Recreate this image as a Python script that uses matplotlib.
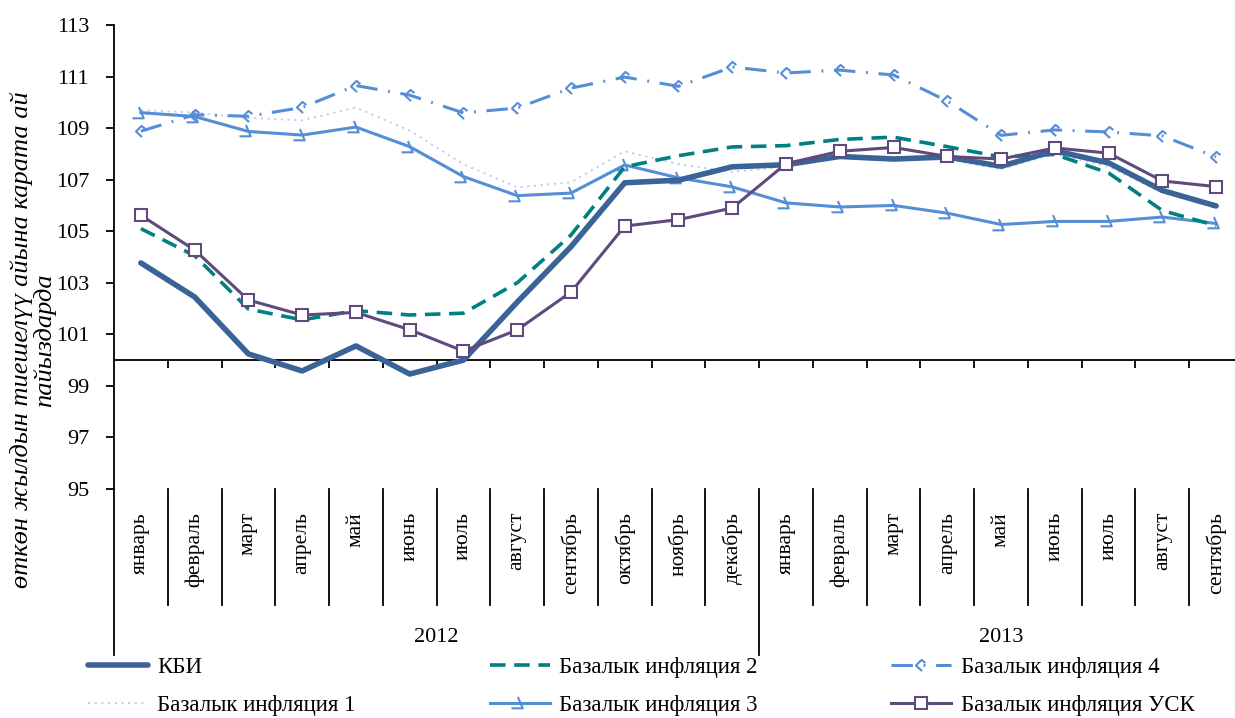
import numpy as np
import matplotlib
matplotlib.use("Agg")
import matplotlib.pyplot as plt
from matplotlib.path import Path

plt.rcParams['font.family'] = ['Liberation Serif', 'DejaVu Serif']

months = ["январь", "февраль", "март", "апрель", "май", "июнь", "июль", "август",
          "сентябрь", "октябрь", "ноябрь", "декабрь",
          "январь", "февраль", "март", "апрель", "май", "июнь", "июль", "август", "сентябрь"]
years = ["2012", "2013"]
year_counts = [12, 9]

kbi = [103.77, 102.45, 100.24, 99.58, 100.55, 99.46, 100.0, 102.25, 104.4, 106.88, 106.98, 107.5,
       107.58, 107.9, 107.8, 107.88, 107.52, 108.12, 107.65, 106.58, 105.98]
bi1 = [109.7, 109.6, 109.4, 109.3, 109.8, 108.9, 107.6, 106.7, 106.9, 108.1, 107.6, 107.3,
       107.5, 107.9, 107.9, 107.8, 107.4, 108.0, 107.5, 106.5, 105.9]
bi2 = [105.1, 104.05, 101.98, 101.56, 101.92, 101.75, 101.82, 103.0, 104.85, 107.5, 107.93, 108.27,
       108.32, 108.56, 108.65, 108.28, 107.88, 107.98, 107.26, 105.8, 105.22]
bi3 = [109.6, 109.45, 108.87, 108.73, 109.04, 108.28, 107.12, 106.38, 106.48, 107.57, 107.07, 106.72,
       106.1, 105.94, 106.0, 105.7, 105.26, 105.38, 105.38, 105.55, 105.3]
bi4 = [108.88, 109.52, 109.46, 109.8, 110.65, 110.28, 109.59, 109.78, 110.55, 110.98, 110.62, 111.37,
       111.14, 111.25, 111.06, 110.05, 108.72, 108.93, 108.85, 108.7, 107.88]
usk = [105.62, 104.27, 102.33, 101.75, 101.85, 101.18, 100.35, 101.17, 102.64, 105.2, 105.45, 105.9,
       107.62, 108.1, 108.25, 107.9, 107.8, 108.23, 108.03, 106.95, 106.73]

labels = ["КБИ", "Базалык инфляция 1", "Базалык инфляция 2", "Базалык инфляция 3",
          "Базалык инфляция 4", "Базалык инфляция УСК"]
ylabel = "өткөн жылдын тиешелүү айына карата ай\nпайыздарда"

W, H = 1235, 718
fig = plt.figure(figsize=(W / 100, H / 100), dpi=100)
ax = fig.add_axes([114 / W, 1 - 489 / H, (1243 - 114) / W, (489 - 25) / H])

x = np.arange(len(months))

c_kbi = "#3A6397"
c_bi1 = "#B9CDE5"
c_bi2 = "#008080"
c_bi34 = "#558ED5"
c_usk = "#604A7B"

m3 = Path([(-0.38, 0.95), (0.33, -0.71), (-1.33, -0.71)],
          [Path.MOVETO, Path.LINETO, Path.LINETO])
m4 = Path([(0.1, -1.0), (-1.0, 0.0), (0.0, 1.0), (0.7, 0.45)],
          [Path.MOVETO, Path.LINETO, Path.LINETO, Path.LINETO])

h1, = ax.plot(x, bi1, color=c_bi1, lw=1.3, linestyle=(0, (1.2, 2.5)), zorder=2, label=labels[1])
h4, = ax.plot(x, bi4, color=c_bi34, lw=2.2, linestyle=(0, (7, 3.5, 0.6, 3.5)),
              marker=m4, markersize=8, markerfacecolor='none', markeredgecolor=c_bi34,
              markeredgewidth=1.5, zorder=3, label=labels[4])
h3, = ax.plot(x, bi3, color=c_bi34, lw=2.2, marker=m3, markersize=13,
              markerfacecolor='none', markeredgecolor=c_bi34, markeredgewidth=1.5,
              zorder=4, label=labels[3])
h2, = ax.plot(x, bi2, color=c_bi2, lw=2.6, linestyle=(0, (4.3, 2.4)), zorder=5, label=labels[2])
h0, = ax.plot(x, kbi, color=c_kbi, lw=4.0, solid_capstyle='round', zorder=6, label=labels[0])
h5, = ax.plot(x, usk, color=c_usk, lw=2.2, marker='s', markersize=9,
              markerfacecolor='white', markeredgecolor=c_usk, markeredgewidth=1.5,
              zorder=7, label=labels[5])

ax.set_xlim(-0.5, len(months) - 0.5)
ax.set_ylim(95, 113)
ax.set_yticks(np.arange(95, 114, 2))
ax.tick_params(axis='y', direction='out', length=6, width=1.3, labelsize=16, pad=12)
ax.set_xticks(np.arange(0.5, len(months) - 0.5, 1))
ax.set_xticklabels([])
ax.tick_params(axis='x', direction='out', length=6, width=1.3)
for s in ['top', 'right']:
    ax.spines[s].set_visible(False)
ax.spines['bottom'].set_position(('data', 100))
ax.spines['bottom'].set_linewidth(1.3)
ax.spines['left'].set_linewidth(1.3)


def ydata(py):
    return 113 - (py - 25) * 18 / (489 - 25)


y_top = 95
y_mid = ydata(605)
y_bot = ydata(655)
ax.plot([-0.5, -0.5], [y_top, y_bot], color='black', lw=1.3, clip_on=False)
for i, m in enumerate(months):
    ax.text(i, ydata(512), m, rotation=90, ha='center', va='top', fontsize=15.5, clip_on=False)
start = 0
for yr, n in zip(years, year_counts):
    for k in range(1, n):
        b = start + k - 0.5
        ax.plot([b, b], [y_top, y_mid], color='black', lw=1.3, clip_on=False)
    end = start + n - 0.5
    if end < len(months) - 0.5:
        ax.plot([end, end], [y_top, y_bot], color='black', lw=1.3, clip_on=False)
    ax.text(start - 0.5 + n / 2, ydata(637), yr, ha='center', va='center', fontsize=16,
            clip_on=False)
    start += n

fig.text(33 / W, 1 - 340 / H, ylabel, rotation=90, ha='center', va='center',
         multialignment='center', fontsize=19, style='italic', linespacing=1.02)

handles = [h0, h1, h2, h3, h4, h5]
leg = fig.legend(handles, labels, ncol=3, loc='upper left',
                 bbox_to_anchor=(88 / W, 1 - 657 / H), frameon=False, fontsize=16.5,
                 handlelength=2.62, handletextpad=0.4, columnspacing=5.85,
                 labelspacing=0.72, borderaxespad=0, borderpad=0, numpoints=1)

fig.savefig("out.png", dpi=100)
